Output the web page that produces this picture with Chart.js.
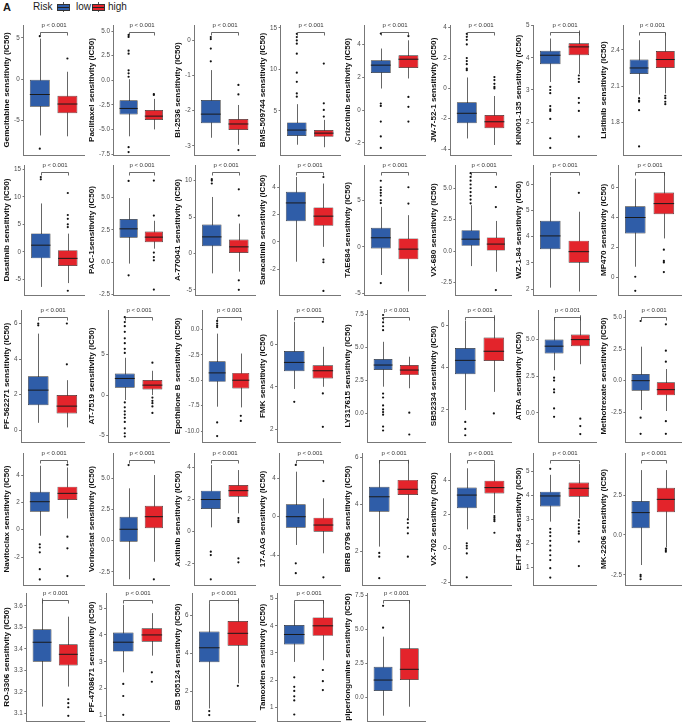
<!DOCTYPE html>
<html>
<head>
<meta charset="utf-8">
<script src="https://cdn.jsdelivr.net/npm/chart.js@4.4.1/dist/chart.umd.min.js"></script>
<style>
  body { margin: 0; background: #fff; width: 685px; height: 723px; position: relative; overflow: hidden;
         font-family: "Liberation Sans", Arial, sans-serif; }
  canvas { position: absolute; }
  .lg { position: absolute; top: 0; line-height: 14px; color: #1a1a1a; white-space: nowrap; }
  .key { position: absolute; top: 2px; width: 12px; height: 10px; }
  .key i { position: absolute; display: block; }
</style>
</head>
<body>
<div id="legend"></div>
<script>
// ---- data ----
const groups = ['low', 'high'];
const groupColors = ['#2F5DA8', '#E3242B'];
const pLabel = 'p < 0.001';

const axisTitles = [
  'Gemcitabine sensitivity (IC50)', 'Paclitaxel sensitivity (IC50)', 'BI-2536 sensitivity (IC50)', 'BMS-509744 sensitivity (IC50)',
  'Crizotinib sensitivity (IC50)', 'JW-7-52-1 sensitivity (IC50)', 'KIN001-135 sensitivity (IC50)', 'Lisitinib sensitivity (IC50)',
  'Dasatinib sensitivity (IC50)', 'PAC-1sensitivity (IC50)', 'A-770041 sensitivity (IC50)', 'Saracatinib sensitivity (IC50)',
  'TAE684 sensitivity (IC50)', 'VX-680 sensitivity (IC50)', 'WZ-1-84 sensitivity (IC50)', 'MP470 sensitivity (IC50)',
  'PF-562271 sensitivity (IC50)', 'AT-7519 sensitivity (IC50)', 'Epothilone B sensitivity (IC50)', 'FMK sensitivity (IC50)',
  'LY317615 sensitivity (IC50)', 'SB52334 sensitivity (IC50)', 'ATRA sensitivity (IC50)', 'Methotrexate sensitivity (IC50)',
  'Navitoclax sensitivity (IC50)', 'Vorinostat sensitivity (IC50)', 'Axitinib sensitivity (IC50)', '17-AAG sensitivity (IC50)',
  'BIRB 0796 sensitivity (IC50)', 'VX-702 sensitivity (IC50)', 'EHT 1864 sensitivity (IC50)', 'MK-2206 sensitivity (IC50)',
  'RO-3306 sensitivity (IC50)', 'PF-4708671 sensitivity (IC50)', 'SB 505124 sensitivity (IC50)', 'Tamoxifen sensitivity (IC50)',
  'piperlongumine sensitivity (IC50)'
];

const tickLabels = [
  ['-5','0','5'], ['-7.5','-5.0','-2.5','0.0','2.5','5.0'], ['-3','-2','-1','0'], ['5','10','15'],
  ['-2','0','2','4'], ['-4','-2','0','2','4'], ['2','3','4','5'], ['1.8','2.1','2.4'],
  ['-5','0','5','10','15'], ['-2.5','0.0','2.5','5.0'], ['-5','0','5','10'], ['-2','0','2','4'],
  ['-5','0','5'], ['-2.5','0.0','2.5','5.0'], ['2','3','4','5','6'], ['0','2','4','6'],
  ['0','2','4','6'], ['-5','0','5'], ['-10.0','-7.5','-5.0','-2.5','0.0'], ['2','4','6'],
  ['0.0','2.5','5.0','7.5'], ['2','4','6'], ['0.0','2.5','5.0'], ['-2.5','0.0','2.5','5.0'],
  ['-2','0','2','4'], ['-2.5','0.0','2.5','5.0'], ['-2','0','2','4'], ['-4','0','4'],
  ['2','4','6'], ['-2','0','2','4'], ['1','2','3','4','5'], ['-2.5','0.0','2.5'],
  ['3.1','3.2','3.3','3.4','3.5','3.6'], ['1','2','3','4','5'], ['2','4','6'], ['1','2','3','4','5'],
  ['0.0','2.5','5.0','7.5']
];

const yLimits = [
  [-9.16, 6.55], [-7.6, 5.61], [-3.26, 0.43], [-0.34, 15.36], [-2.73, 5.17], [-4.39, 4.18], [0.98, 5.02], [1.529, 2.606],
  [-7.87, 15.8], [-2.52, 7.5], [-5.71, 12.14], [-3.9, 5.63], [-5.18, 8.79], [-3.49, 6.85], [1.78, 6.73], [-1.18, 7.51],
  [-0.67, 6.76], [-5.78, 10.49], [-11.08, 1.93], [1.42, 7.59], [-2.17, 7.83], [0.48, 6.72], [-1.99, 7.02], [-4.85, 5.59],
  [-4.04, 5.61], [-3.56, 7.05], [-3.31, 4.89], [-7.13, 6.65], [0.55, 6.19], [-2.16, 5.62], [0.26, 5.76], [-3.13, 5.13],
  [3.065, 3.66], [0.8, 5.56], [0.44, 7.17], [0.49, 5.21], [-1.71, 7.7]
];

// [lower whisker, Q1, median, Q3, upper whisker]
const lowStats = [
  [-6.8,-3.33,-1.85,0.0,4.9], [-5.7,-3.48,-2.87,-2.03,0.1], [-2.77,-2.36,-2.1,-1.7,-0.85], [0.9,1.95,2.67,3.6,5.8],
  [1.31,2.26,2.73,3.03,3.74], [-3.3,-2.3,-1.64,-0.92,0.72], [3.25,3.8,4.08,4.22,4.6], [2.03,2.2,2.25,2.32,2.48],
  [-6.4,-1.2,1.2,3.35,8.8], [-0.1,1.89,2.58,3.34,4.95], [-2.74,1.0,2.27,3.97,7.75], [-1.46,1.51,2.85,3.66,4.75],
  [-3.03,-0.18,0.97,2.04,4.29], [-1.19,0.42,0.95,1.67,3.65], [2.06,3.52,4.03,4.61,6.28], [0.71,2.93,4.0,4.75,6.6],
  [0.41,1.4,2.25,3.03,5.43], [-0.6,0.9,2.05,2.67,4.6], [-7.6,-5.15,-4.27,-3.12,-0.4], [3.9,4.73,5.14,5.67,7.04],
  [2.02,3.28,3.66,4.11,5.42], [1.99,3.68,4.34,4.92,6.2], [2.91,4.05,4.55,5.0,6.54], [-2.32,-0.79,0.0,0.53,2.69],
  [-0.44,1.32,2.05,2.77,4.68], [-3.1,-0.08,0.92,1.93,4.21], [0.27,1.41,2.0,2.55,4.14], [-2.95,-1.15,0.0,1.29,4.7],
  [2.19,3.68,4.32,4.75,5.89], [1.12,2.36,3.14,3.58,4.72], [2.9,3.53,3.97,4.15,4.85], [-1.88,0.42,1.4,2.13,4.06],
  [3.132,3.341,3.431,3.491,3.635], [2.61,3.38,3.73,4.09,5.12], [1.1,3.53,4.29,5.14,6.63], [2.67,3.31,3.68,4.03,4.83],
  [-1.32,0.49,1.3,2.28,4.49]
];

const highStats = [
  [-6.9,-4.1,-3.0,-2.0,0.9], [-5.0,-4.05,-3.65,-3.04,-1.9], [-2.97,-2.55,-2.38,-2.24,-1.84], [0.6,1.85,2.3,2.67,3.9],
  [1.92,2.56,3.09,3.33,4.24], [-3.73,-2.63,-2.2,-1.76,-0.5], [3.5,4.08,4.34,4.45,4.85], [2.04,2.25,2.32,2.39,2.54],
  [-5.7,-2.6,-1.2,0.3,3.3], [1.05,1.55,1.94,2.37,3.2], [-2.5,0.0,0.9,1.92,4.1], [-0.37,1.17,1.88,2.52,4.27],
  [-4.8,-1.35,-0.25,0.9,3.4], [-1.64,0.0,0.56,1.09,2.4], [1.91,3.01,3.43,3.85,4.95], [2.6,4.22,4.93,5.67,7.04],
  [0.15,0.94,1.35,1.97,2.81], [0.0,0.7,1.23,1.85,3.0], [-7.67,-5.8,-4.99,-4.27,-2.36], [4.0,4.39,4.75,5.01,5.87],
  [1.9,2.9,3.28,3.66,4.29], [2.85,4.31,4.77,5.42,6.47], [3.32,4.55,5.0,5.34,6.66], [-2.4,-1.16,-0.71,-0.13,0.92],
  [0.83,2.17,2.66,3.15,4.55], [-1.69,1.0,1.93,2.81,5.28], [1.14,2.17,2.55,2.9,3.83], [-3.82,-1.57,-0.87,-0.1,1.92],
  [3.4,4.4,4.64,5.04,5.9], [2.06,3.24,3.58,3.99,5.01], [3.04,3.94,4.29,4.53,5.3], [-0.77,1.42,2.23,2.96,4.06],
  [3.225,3.323,3.375,3.422,3.55], [3.23,3.75,4.0,4.25,4.81], [2.42,4.4,5.05,5.7,6.89], [2.73,3.63,4.0,4.31,4.95],
  [-0.66,1.3,2.09,3.63,7.18]
];

const lowOutliers = [
  [5.2,-8.4], [4.6,4.4,3.0,2.7,1.0,0.7,0.35,-6.8,-7.3], [0.09,0.03,-0.24,-0.6], [14.3,13.9,13.5,13.1,11.9,9.6,8.5,7.1,6.7],
  [4.65,0.4,0.25,-0.7,-1.6,-2.3], [3.6,3.4,3.2,2.9,2.0,1.8,1.6,1.3,1.2], [3.1,3.0,2.9,2.5,2.4,2.35,2.1,1.5,1.2], [2.0,1.98,1.97,1.9,1.6],
  [13.6,13.2], [6.27,-1.0], [10.2,10.0,9.6], [],
  [7.1,6.4,6.1,5.8,5.5,5.0,4.7,-3.9], [6.2,5.9,5.6,5.3,5.0,4.7,4.4,4.1,3.8], [], [0.04,-0.9],
  [6.0,5.9], [9.6,9.0,8.5,7.8,7.0,6.4,5.7,5.2,-0.9,-1.5,-2.0,-2.4,-2.8,-3.3,-4.1,-4.7,-5.1], [0.85,0.6,0.4,0.25,-9.15,-10.5], [3.3],
  [7.45,7.2,6.9,6.6,6.3,1.5,1.2,0.6,0.3,0.1,-0.1,-1.0,-1.3], [1.43,1.1,0.8], [2.4,2.2,1.6,1.4,0.3,-0.27], [4.72,-2.93,-4.2],
  [-1.07,-1.3,-1.65,-2.88,-3.63], [6.08], [-1.24,-1.45,-2.96], [5.4,-4.87,-5.9],
  [1.92,1.76,0.84], [0.3,0.15,0.0,-0.3,-1.71], [5.1,2.6,2.45,2.3,2.1,1.9,1.7,1.5,1.3,0.96,0.57], [-2.5,-2.6,-2.77],
  [], [2.18,1.73,1.03], [0.96,0.75], [2.1,1.75,1.6,1.4,1.25,0.73],
  [5.15,6.76]
];

const highOutliers = [
  [2.5], [-1.4,-1.5], [-1.27,-1.54,-3.12], [10.7,5.9,5.1,4.3],
  [4.5,0.8,0.2,-0.7], [0.75,0.55,0.3,0.1,0.0], [3.45,3.35,3.25,2.75,2.6,2.35,1.55], [2.02,2.0,1.97,1.95],
  [10.7,6.7,6.0,5.0,4.5,-7.1], [6.3,3.6,0.75,0.4,0.15,-2.1], [8.8,5.2,-3.7,-5.0], [4.75,-1.3,-1.5,-3.6],
  [6.4,4.65], [5.1,3.5,-3.1], [5.67], [1.85,1.1,1.0,0.35],
  [6.0,3.7], [4.0,-0.3,-0.7,-1.0,-1.4,-2.2], [-8.5,-9.0], [7.04,3.69,2.13],
  [0.05,-1.6], [1.83], [-0.4,-0.9,-1.45], [4.46,2.37,1.5,-3.2,-4.2],
  [4.75,-0.51,-1.36,-3.39], [-3.1], [0.85,0.7,0.6,-1.65,-1.9], [3.72,-6.33],
  [3.35,3.2,3.0,2.76,1.76], [1.9,1.8,1.7,1.6,0.92], [2.95,2.8,2.65,2.5,2.4,2.07,1.05], [-0.85,-0.95,-1.05],
  [3.166,3.148,3.129,3.089], [2.61,2.26], [2.29], [2.37,1.96,1.63],
  []
];

// ---- layout ----
const COLS = 8, COL_LEFT = 2, COL_PITCH = 85.3;
const rowTop = [24.7, 164.7, 309.7, 453, 593];
const rowBottom = [155, 295, 442, 585, 721];
const PAD_TOP = 9, PAD_BOTTOM = 6;
const FONT = '"Liberation Sans", Arial, sans-serif';

// legend
(function buildLegend() {
  const lg = document.getElementById('legend');
  let html = '<span class="lg" style="left:3px;font-weight:bold;font-size:11px">A</span>' +
             '<span class="lg" style="left:33px;font-size:10px">Risk</span>';
  const keyLeft = [57, 92], labLeft = [76, 108];
  groups.forEach((g, i) => {
    html += `<span class="key" style="left:${keyLeft[i]}px">` +
      '<i style="left:5.5px;top:0;width:1px;height:10px;background:#555"></i>' +
      `<i style="left:0;top:2px;width:11px;height:5px;background:${groupColors[i]};border:0.7px solid #333"></i>` +
      '<i style="left:0;top:4.5px;width:12px;height:1px;background:#222"></i></span>' +
      `<span class="lg" style="left:${labLeft[i]}px;font-size:10px">${g}</span>`;
  });
  lg.innerHTML = html;
})();

// whiskers, medians and the comparison bracket
const boxParts = {
  id: 'boxParts',
  beforeDatasetsDraw(chart, args, opts) {
    const { ctx, scales: { x, y } } = chart;
    ctx.save();
    ctx.strokeStyle = '#666';
    ctx.lineWidth = 1;
    opts.stats.forEach((s, i) => {
      const px = Math.round(x.getPixelForValue(i + 1)) + 0.5;
      ctx.beginPath();
      ctx.moveTo(px, y.getPixelForValue(s[0]));
      ctx.lineTo(px, y.getPixelForValue(s[4]));
      ctx.stroke();
    });
    ctx.restore();
  },
  afterDatasetsDraw(chart, args, opts) {
    const { ctx, scales: { x, y } } = chart;
    const bars = chart.getDatasetMeta(0).data;
    ctx.save();
    ctx.strokeStyle = '#1a1a1a';
    ctx.lineWidth = 1;
    opts.stats.forEach((s, i) => {
      const b = bars[i];
      const py = y.getPixelForValue(s[2]);
      ctx.beginPath();
      ctx.moveTo(b.x - b.width / 2, py);
      ctx.lineTo(b.x + b.width / 2, py);
      ctx.stroke();
    });
    // bracket
    const x1 = Math.round(x.getPixelForValue(1)) + 0.5;
    const x2 = Math.round(x.getPixelForValue(2)) + 0.5;
    const by = Math.round(chart.chartArea.top + 7) + 0.5;
    ctx.strokeStyle = '#444';
    ctx.lineWidth = 0.8;
    ctx.beginPath();
    ctx.moveTo(x1, by + 3); ctx.lineTo(x1, by); ctx.lineTo(x2, by); ctx.lineTo(x2, by + 3);
    ctx.stroke();
    ctx.fillStyle = '#333';
    ctx.font = '6px ' + FONT;
    ctx.textAlign = 'center';
    ctx.textBaseline = 'middle';
    ctx.fillText(opts.label, (x1 + x2) / 2, by - 7);
    ctx.restore();
  }
};

axisTitles.forEach((title, k) => {
  const col = k % COLS, row = Math.floor(k / COLS);
  const cv = document.createElement('canvas');
  const h = Math.round(rowBottom[row] - rowTop[row]) + PAD_TOP + PAD_BOTTOM;
  cv.width = 86;
  cv.height = h;
  cv.style.left = (COL_LEFT + col * COL_PITCH) + 'px';
  cv.style.top = (Math.round(rowTop[row]) - PAD_TOP) + 'px';
  document.body.appendChild(cv);

  const labels = tickLabels[k];
  const tickVals = labels.map(s => parseFloat(s));
  const stats = [lowStats[k], highStats[k]];
  const outliers = [];
  lowOutliers[k].forEach(v => outliers.push({ x: 1, y: v }));
  highOutliers[k].forEach(v => outliers.push({ x: 2, y: v }));

  new Chart(cv, {
    type: 'bar',
    data: {
      datasets: [
        {
          type: 'bar',
          order: 1,
          data: stats.map((s, i) => ({ x: i + 1, y: [s[1], s[3]] })),
          backgroundColor: groupColors,
          borderColor: '#2a2a2a',
          borderWidth: 0.7,
          borderSkipped: false,
          categoryPercentage: 1,
          barPercentage: 0.72
        },
        {
          type: 'scatter',
          order: 0,
          data: outliers,
          pointRadius: 1.1,
          pointBackgroundColor: '#111',
          pointBorderWidth: 0
        }
      ]
    },
    options: {
      responsive: false,
      animation: false,
      events: [],
      layout: { padding: { top: PAD_TOP, bottom: PAD_BOTTOM, left: 1, right: 0.5 } },
      plugins: {
        legend: { display: false },
        tooltip: { enabled: false },
        boxParts: { stats: stats, label: pLabel }
      },
      scales: {
        x: {
          type: 'linear',
          min: 0.4, max: 2.6,
          offset: false,
          ticks: { display: false },
          grid: { display: false, drawTicks: false },
          border: { display: true, color: '#777', width: 1 }
        },
        y: {
          min: yLimits[k][0], max: yLimits[k][1],
          beginAtZero: false,
          afterBuildTicks: scale => {
            scale.ticks = tickVals.filter(v => v >= scale.min && v <= scale.max).map(v => ({ value: v }));
          },
          ticks: {
            autoSkip: false,
            padding: 1.5,
            color: '#4d4d4d',
            font: { family: FONT, size: 6.3 },
            callback: v => labels[tickVals.indexOf(v)]
          },
          grid: { drawOnChartArea: false, drawTicks: true, tickLength: 2, color: '#777' },
          border: { display: true, color: '#777', width: 1 },
          title: {
            display: true,
            text: title,
            color: '#111',
            font: { family: FONT, size: 8.1, weight: 'bold', lineHeight: 1 },
            padding: { top: 0, bottom: 1.5 }
          }
        }
      }
    },
    plugins: [boxParts]
  });
});
</script>
</body>
</html>
